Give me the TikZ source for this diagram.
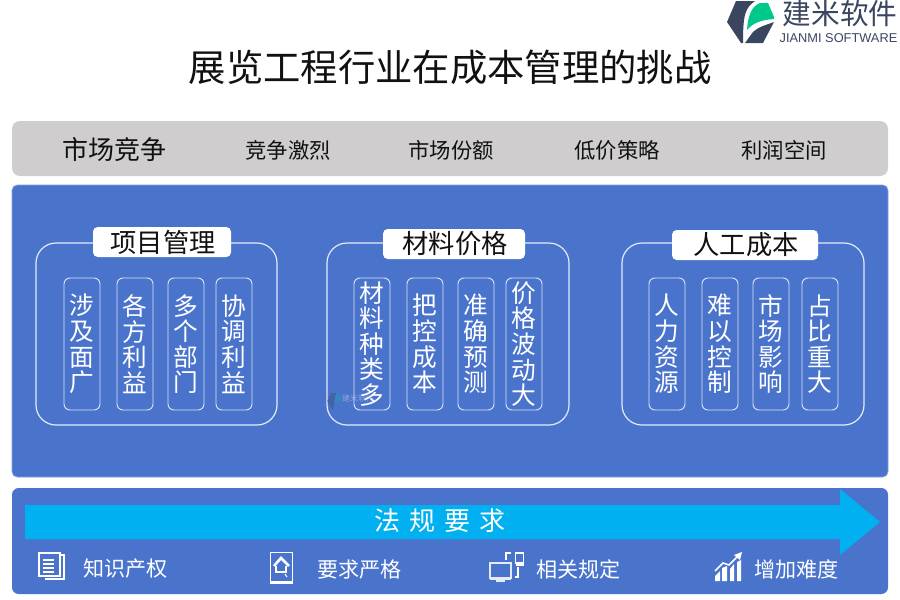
\documentclass[tikz,border=0pt]{standalone}
\usepackage{fontspec}
\setmainfont{Noto Sans CJK SC}
\newfontfamily\latinfont{Liberation Sans}
\usetikzlibrary{positioning}
\definecolor{ink}{HTML}{111111}
\definecolor{cbar}{HTML}{CFCDCD}
\definecolor{cpanel}{HTML}{4A74CC}
\definecolor{carrow}{HTML}{00B0F0}
\definecolor{clogo}{HTML}{3A4560}
\definecolor{cleaf}{HTML}{00C88A}
\tikzset{
  titletext/.style={font=\fontsize{28}{28}\selectfont, text=ink},
  bar/.style={fill=cbar, rounded corners=6pt},
  panel/.style={fill=cpanel, draw=cpanel!70!white, line width=0.5pt, rounded corners=4pt},
  bartext/.style={font=\fontsize{16}{16}\selectfont, text=ink},
  group/.style={draw=white!85!cpanel, line width=0.9pt, rounded corners=15pt},
  head/.style={fill=white, rounded corners=3.5pt, font=\fontsize{19.7}{19.7}\selectfont, text=ink, minimum height=22.5pt, inner sep=0pt, execute at begin node=\kern1.5pt},
  cell/.style={draw=white!80!cpanel, line width=0.7pt, rounded corners=4.5pt, minimum width=27pt, minimum height=99pt, inner sep=0pt, align=center, text=white, font=\fontsize{18.5}{19.2}\selectfont},
  foot/.style={font=\fontsize{15.8}{15.8}\selectfont, text=white, anchor=west, inner sep=0pt},
  icon/.style={draw=white, line width=0.8pt},
}
\begin{document}
\begin{tikzpicture}[x=0.75pt, y=-0.75pt]
\useasboundingbox (0,0) rectangle (900,600);

% ---------------- title and logo ----------------
\node[titletext] (title) at (450,67) {展览工程行业在成本管理的挑战};
\fill[clogo] (736,1) -- (755,1) .. controls (745,8) and (743,15) .. (743,43) -- (741,43) -- (727,22) -- cycle;
\fill[clogo] (745,43) -- (753,32) .. controls (758,27) and (766,25) .. (774,22) -- (763,43) -- cycle;
\fill[cleaf] (747,30) .. controls (748,15) and (752,6) .. (760,3) -- (768,3) -- (774,17) -- (774,19) .. controls (762,20) and (754,22) .. (747,30) -- cycle;
\node[font=\fontsize{21.5}{21.5}\selectfont, text=clogo, inner sep=0pt] (logoname) at (840,14) {建米软件};
\node[font=\latinfont\fontsize{9.6}{9.6}\selectfont, text=clogo, inner sep=0pt] (logosub) at (838.5,38) {JIANMI SOFTWARE};

% ---------------- top bar ----------------
\fill[bar] (12,121) rectangle (888,176);
\node[bartext, font=\fontsize{19.5}{19.5}\selectfont] (market) at (114,150) {市场竞争};
\foreach \x/\n/\t in {288/fierce/竞争激烈, 451/share/市场份额, 617/price/低价策略, 784/profit/利润空间}
  \node[bartext] (\n) at (\x,150) {\t};

% ---------------- main panel ----------------
\draw[panel] (12,185) rectangle (888,477);
\draw[group] (36,243) rectangle (277,425);
\draw[group] (327,243) rectangle (569,425);
\draw[group] (622,243) rectangle (864,425);

\node[head, minimum width=103.5pt] (project) at (162,242) {项目管理};
\node[head, minimum width=106.5pt] (material) at (454,244) {材料价格};
\node[head, minimum width=109.5pt] (labour) at (745,245) {人工成本};

% faint mark behind the cells
\begin{scope}[opacity=0.35]
\fill[clogo] (327,401) -- (331,393) -- (336,393) -- (333,411) -- cycle;
\fill[cleaf!70!cpanel] (334,403) -- (336,394) -- (341,396) -- (341,401) -- cycle;
\node[font=\fontsize{6}{6}\selectfont, text=white, inner sep=0pt] (mark) at (358,398) {建米软件};
\end{scope}

\foreach \x/\n/\t in {82/pa/涉\\及\\面\\广, 135/pb/各\\方\\利\\益, 186/pc/多\\个\\部\\门, 234/pd/协\\调\\利\\益,
                      372/ma/材\\料\\种\\类\\多, 425/mb/把\\控\\成\\本, 476/mc/准\\确\\预\\测, 524/md/价\\格\\波\\动\\大,
                      667/la/人\\力\\资\\源, 720/lb/难\\以\\控\\制, 771/lc/市\\场\\影\\响, 820/ld/占\\比\\重\\大}
  \node[cell] (\n) at (\x,344) {\t};

% ---------------- bottom panel ----------------
\fill[cpanel, rounded corners=5pt] (12,488) rectangle (888,594);
\fill[carrow] (25,505) -- (840,505) -- (840,489) -- (880,522) -- (840,555) -- (840,539) -- (25,539) -- cycle;
\foreach \x/\n/\t in {387/la/法, 422/lb/规, 457/lc/要, 492/ld/求}
  \node[font=\fontsize{19.5}{19.5}\selectfont, text=white, inner sep=0pt] (law\n) at (\x,521) {\t};

\node[foot] (know) at (83,569) {知识产权};
\node[foot] (strict) at (317,569) {要求严格};
\node[foot] (rules) at (536,569) {相关规定};
\node[foot] (hard) at (754,569) {增加难度};

% ---------------- icons ----------------
\draw[icon] (39,553) rectangle (60,576);
\draw[icon] (61,555) -- (64,555) -- (64,579) -- (45,579);
\foreach \y in {560,564,568,572} { \draw[icon] (43,\y) -- (54,\y); }

\draw[icon] (270.5,552.5) rectangle (292.5,583.5);
\draw[icon, line width=2pt] (270.5,582) -- (292.5,582);
\draw[icon, line width=2pt] (274,566) -- (281,558) -- (289,566);
\draw[icon, line width=2pt] (276,566) -- (276,572) -- (286,572) -- (286,566);
\draw[icon] (285,574) -- (287,577);

\draw[icon, draw=white!85!cpanel] (490,563) rectangle (511,578);
\fill[white!85!cpanel] (490,578) rectangle (511,580);
\fill[white!85!cpanel] (496,580) rectangle (505,582);
\draw[icon] (506,560) -- (506,553) -- (511,553);
\draw[icon] (515,577) -- (518,577) -- (518,567);
\draw[icon] (515.5,553) rectangle (523.5,563);
\fill[white] (515.5,563) rectangle (523.5,566);

\fill[white] (715,581) -- (715,576) -- (720,571) -- (720,581) -- cycle;
\fill[white] (722,581) -- (722,568) -- (727,566) -- (727,581) -- cycle;
\fill[white] (730,581) -- (730,569) -- (734,564) -- (734,581) -- cycle;
\fill[white] (737,581) -- (737,562) -- (741,560) -- (741,581) -- cycle;
\draw[icon, line width=1.1pt] (715,571) -- (723,563) -- (729,565) -- (738,556);
\fill[white] (742,552) -- (740,560) -- (734,555) -- cycle;

\end{tikzpicture}
\end{document}
